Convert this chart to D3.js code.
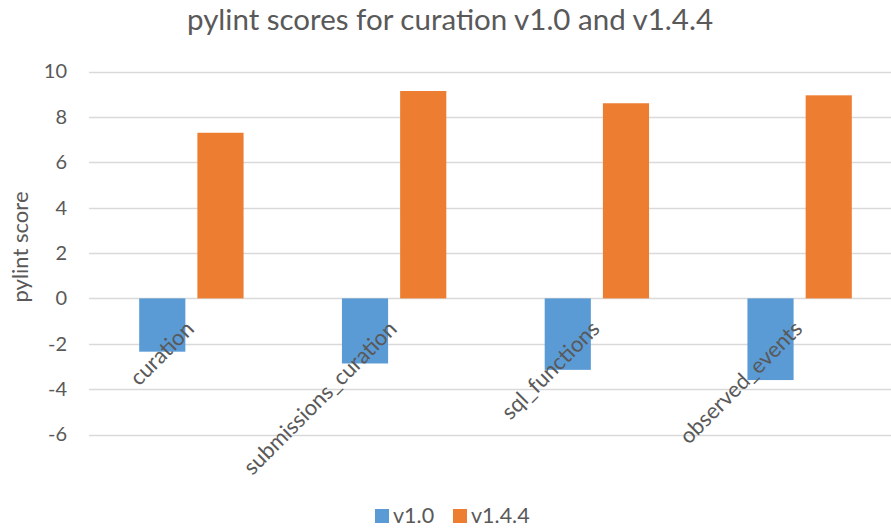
<!DOCTYPE html>
<html>
<head>
<meta charset="utf-8">
<script src="https://cdn.jsdelivr.net/npm/d3@7"></script>
<style>
  body { margin: 0; background: #fff; }
  svg { display: block; font-family: Lato, "Liberation Sans", sans-serif; }
</style>
</head>
<body>
<svg id="chart" width="891" height="529"></svg>
<script>
// data
const categories = ['curation', 'submissions_curation', 'sql_functions', 'observed_events'];
const seriesNames = ['v1.0', 'v1.4.4'];
const v10 = [-2.35, -2.87, -3.15, -3.6];
const v144 = [7.3, 9.14, 8.6, 8.95];
const yTicks = [-6, -4, -2, 0, 2, 4, 6, 8, 10];
const colors = ['#5B9BD5', '#ED7D31'];

const width = 891, height = 529;
const svg = d3.select('#chart');

const x = d3.scaleBand().domain(categories).range([90, 901]);
const xInner = d3.scaleBand().domain(seriesNames).range([0, x.bandwidth()])
  .paddingInner(0.207).paddingOuter(0.845);
const y = d3.scaleLinear().domain([-6, 10]).range([434.5, 71.5]);

// title
svg.append('text')
  .attr('x', 450).attr('y', 30)
  .attr('text-anchor', 'middle')
  .style('font-size', '29.5px')
  .style('fill', '#595959')
  .text('pylint scores for curation v1.0 and v1.4.4');

// gridlines
svg.append('g').selectAll('line')
  .data(yTicks)
  .enter().append('line')
  .attr('x1', 89).attr('x2', width)
  .attr('y1', d => Math.round(y(d)) + 0.5)
  .attr('y2', d => Math.round(y(d)) + 0.5)
  .style('stroke', '#d9d9d9')
  .style('stroke-width', 1.5);

// y axis tick labels (plain hyphen minus like the original)
const yAxis = d3.axisLeft(y).tickValues(yTicks).tickSize(0).tickPadding(0)
  .tickFormat(d => String(d));
const gy = svg.append('g').attr('transform', 'translate(67,0)').call(yAxis);
gy.select('.domain').remove();
gy.selectAll('text')
  .style('font-family', 'Lato, "Liberation Sans", sans-serif')
  .style('font-size', '20px')
  .style('fill', '#595959');

// axis title
svg.append('text')
  .attr('transform', 'translate(28,247) rotate(-90)')
  .attr('text-anchor', 'middle')
  .style('font-size', '22px')
  .style('fill', '#595959')
  .text('pylint score');

// bars
const series = [v10, v144];
const groups = svg.append('g').selectAll('g')
  .data(categories)
  .enter().append('g')
  .attr('transform', d => `translate(${x(d)},0)`);

groups.selectAll('rect')
  .data((d, i) => series.map((s, k) => ({ name: seriesNames[k], value: s[i], k })))
  .enter().append('rect')
  .attr('x', d => xInner(d.name))
  .attr('width', xInner.bandwidth())
  .attr('y', d => y(Math.max(0, d.value)))
  .attr('height', d => Math.abs(y(d.value) - y(0)))
  .attr('fill', d => colors[d.k]);

// category labels, rotated, ending at the category centre below the zero line
svg.append('g').selectAll('text')
  .data(categories)
  .enter().append('text')
  .attr('transform', d => `translate(${x(d) + x.bandwidth() / 2 + 4},${y(0) + 32}) rotate(-45)`)
  .attr('text-anchor', 'end')
  .style('font-size', '22px')
  .style('fill', '#595959')
  .text(d => d);

// legend
const legend = svg.append('g').attr('transform', 'translate(375,509)');
const items = [{ name: seriesNames[0], x: 0 }, { name: seriesNames[1], x: 78 }];
items.forEach((it, k) => {
  legend.append('rect')
    .attr('x', it.x).attr('y', 0)
    .attr('width', 14).attr('height', 14)
    .attr('fill', colors[k]);
  legend.append('text')
    .attr('x', it.x + 18).attr('y', 14)
    .style('font-size', '21.5px')
    .style('fill', '#595959')
    .text(it.name);
});
</script>
</body>
</html>
